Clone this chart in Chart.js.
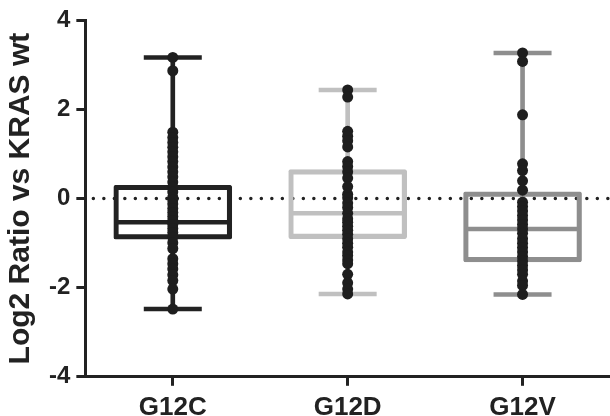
<!DOCTYPE html>
<html>
<head>
<meta charset="utf-8">
<script src="https://cdn.jsdelivr.net/npm/chart.js@4"></script>
<style>
  html, body { margin: 0; padding: 0; background: #fff; }
  #wrap { width: 610px; height: 416px; }
</style>
</head>
<body>
<div id="wrap"><canvas id="boxChart"></canvas></div>
<script>
// categories and box colours
const groups = ['G12C', 'G12D', 'G12V'];
const boxColors = ['#222222', '#c0c0c0', '#8e8e8e'];

// box summary per group
const whiskerMin = [-2.48, -2.14, -2.15];
const whiskerMax = [3.17, 2.44, 3.27];
const q1 = [-0.91, -0.90, -1.42];
const q3 = [0.30, 0.65, 0.15];
const medians = [-0.53, -0.33, -0.68];

// individual points
const g12cPoints = [3.17, 2.87, 1.49, 1.37, 1.26, 1.15, 1.05, 0.94, 0.83, 0.71, 0.60, 0.49,
  0.37, 0.26, 0.15, 0.03, -0.03, -0.12, -0.22, -0.31, -0.40, -0.49, -0.58, -0.67, -0.76,
  -0.87, -0.99, -1.12, -1.35, -1.46, -1.58, -1.71, -1.84, -2.03, -2.48];
const g12dPoints = [2.44, 2.28, 1.51, 1.40, 1.30, 1.16, 0.83, 0.72, 0.60, 0.46, 0.27, 0.10,
  0.02, -0.10, -0.20, -0.33, -0.45, -0.53, -0.62, -0.71, -0.80, -0.90, -1.00, -1.09, -1.20,
  -1.28, -1.38, -1.46, -1.70, -1.89, -2.03, -2.14];
const g12vPoints = [3.27, 3.08, 1.88, 0.78, 0.63, 0.40, 0.19, -0.08, -0.18, -0.28, -0.38,
  -0.48, -0.58, -0.68, -0.78, -0.90, -1.00, -1.10, -1.20, -1.30, -1.40, -1.50, -1.60, -1.70,
  -1.85, -1.95, -2.15];

// y axis ticks
const yTicks = [-4, -2, 0, 2, 4];
const yTitle = 'Log2 Ratio vs KRAS wt';

const LW = 4.5;

// dotted reference line at y = 0
const zeroLine = {
  id: 'zeroLine',
  beforeDatasetsDraw(chart) {
    const { ctx, chartArea, scales } = chart;
    const y = scales.y.getPixelForValue(0);
    ctx.save();
    ctx.strokeStyle = '#222';
    ctx.lineWidth = 3.5;
    ctx.lineCap = 'round';
    ctx.setLineDash([0, 10.5]);
    ctx.beginPath();
    ctx.moveTo(chartArea.left + 8, y);
    ctx.lineTo(chartArea.right, y);
    ctx.stroke();
    ctx.restore();
  }
};

function linePoints(values) {
  return values.map((v, i) => ({ x: groups[i], y: v }));
}

const allPoints = []
  .concat(g12cPoints.map(v => ({ x: groups[0], y: v })))
  .concat(g12dPoints.map(v => ({ x: groups[1], y: v })))
  .concat(g12vPoints.map(v => ({ x: groups[2], y: v })));

const ctx = document.getElementById('boxChart').getContext('2d');

new Chart(ctx, {
  type: 'bar',
  data: {
    labels: groups,
    datasets: [
      {
        // whisker stems
        type: 'bar',
        data: whiskerMin.map((v, i) => [v, whiskerMax[i]]),
        backgroundColor: boxColors,
        barThickness: 4,
        grouped: false,
        order: 5
      },
      {
        // boxes
        type: 'bar',
        data: q1.map((v, i) => [v, q3[i]]),
        backgroundColor: 'rgba(0,0,0,0)',
        borderColor: boxColors,
        borderWidth: LW,
        borderSkipped: false,
        borderRadius: 2,
        barThickness: 118,
        grouped: false,
        order: 4
      },
      {
        // medians
        type: 'line',
        data: linePoints(medians),
        showLine: false,
        pointStyle: 'line',
        pointRadius: 56,
        pointBorderWidth: LW,
        pointBorderColor: boxColors,
        order: 3
      },
      {
        // caps
        type: 'line',
        data: linePoints(whiskerMax).concat(linePoints(whiskerMin)),
        showLine: false,
        pointStyle: 'line',
        pointRadius: 29,
        pointBorderWidth: LW,
        pointBorderColor: boxColors.concat(boxColors),
        order: 2
      },
      {
        // individual values
        type: 'line',
        data: allPoints,
        showLine: false,
        pointStyle: 'circle',
        pointRadius: 5.5,
        pointBorderWidth: 0,
        pointBackgroundColor: '#1e1e1e',
        order: 1
      }
    ]
  },
  options: {
    responsive: true,
    maintainAspectRatio: false,
    animation: false,
    layout: { autoPadding: false, padding: { top: 14, right: 0, bottom: -13, left: 6 } },
    plugins: {
      legend: { display: false },
      tooltip: { enabled: false }
    },
    scales: {
      x: {
        type: 'category',
        labels: groups,
        offset: true,
        grid: {
          offset: false,
          drawOnChartArea: false,
          drawTicks: true,
          tickLength: 9,
          tickWidth: 3,
          tickColor: '#222'
        },
        border: { display: true, color: '#222', width: 3 },
        ticks: {
          color: '#222',
          padding: 6,
          font: { family: 'Liberation Sans', weight: 'bold', size: 26 }
        }
      },
      y: {
        type: 'linear',
        min: -4,
        max: 4,
        afterBuildTicks(axis) {
          axis.ticks = yTicks.map(v => ({ value: v }));
        },
        grid: {
          drawOnChartArea: false,
          drawTicks: true,
          tickLength: 9,
          tickWidth: 3,
          tickColor: '#222'
        },
        border: { display: true, color: '#222', width: 3 },
        ticks: {
          color: '#222',
          padding: 6,
          font: { family: 'Liberation Sans', weight: 'bold', size: 24 }
        },
        title: {
          display: true,
          text: yTitle,
          color: '#222',
          padding: { top: 0, bottom: 7 },
          font: { family: 'Liberation Sans', weight: 'bold', size: 30, lineHeight: 1 }
        }
      }
    }
  },
  plugins: [zeroLine]
});
</script>
</body>
</html>
